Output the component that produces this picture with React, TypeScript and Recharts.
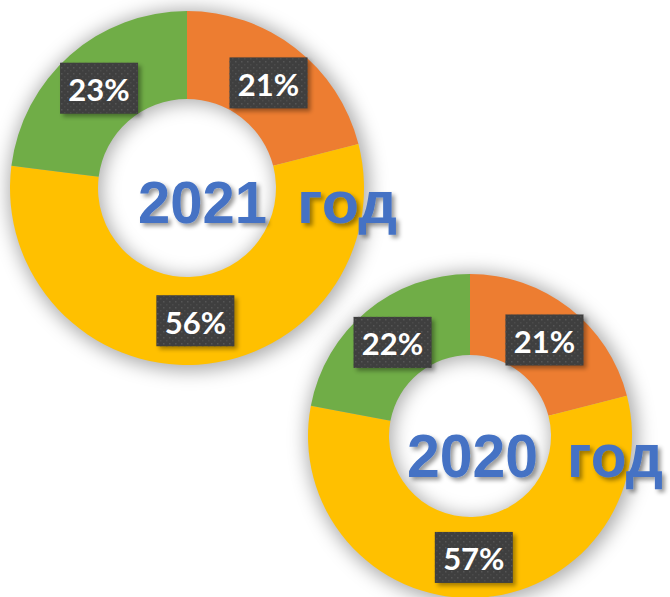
import React from "react";
import { PieChart, Pie, Cell } from "recharts";

const categories = ["Категория 1", "Категория 2", "Категория 3"];
const values2021 = [21, 56, 23];
const values2020 = [21, 57, 22];
const years = ["2021", "2020"];
const yearWord = "год";
const colors = ["#ED7D31", "#FFC000", "#70AD47"];

const data2021 = categories.map((name, i) => ({ name, value: values2021[i] }));
const data2020 = categories.map((name, i) => ({ name, value: values2020[i] }));
const ringData = [{ name: "ring", value: 100 }];

const RAD = Math.PI / 180;

function renderLabel(props: any) {
  const { cx, cy, midAngle, innerRadius, outerRadius, value } = props;
  const r = (innerRadius + outerRadius) / 2;
  const x = cx + r * Math.cos(-midAngle * RAD);
  const y = cy + r * Math.sin(-midAngle * RAD);
  const w = 78;
  const h = 51;
  return (
    <g>
      <rect
        x={x - w / 2 + 3}
        y={y - h / 2 + 3}
        width={w}
        height={h}
        fill="#000"
        opacity={0.35}
        filter="url(#boxBlur)"
      />
      <rect x={x - w / 2} y={y - h / 2} width={w} height={h} fill="#3f3f3f" />
      <rect x={x - w / 2} y={y - h / 2} width={w} height={h} fill="url(#dots)" />
      <text
        x={x}
        y={y + 1}
        textAnchor="middle"
        dominantBaseline="central"
        fill="#ffffff"
        fontFamily="Lato, 'Open Sans', sans-serif"
        fontWeight={700}
        fontSize={31}
      >
        {value}%
      </text>
    </g>
  );
}

// year title: number and word are spaced apart like in the original slide
function Title(props: {
  x: number;
  wordX: number;
  y: number;
  size: number;
  yearLen: number;
  wordLen: number;
  year: string;
}) {
  const { x, wordX, y, size, yearLen, wordLen, year } = props;
  return (
    <text
      y={y}
      fill="#4472C4"
      fontFamily="'Liberation Sans', Arial, sans-serif"
      fontWeight={700}
      fontSize={size}
      filter="url(#textShadow)"
    >
      <tspan x={x} textLength={yearLen} lengthAdjust="spacingAndGlyphs">
        {year}
      </tspan>
      <tspan x={wordX} textLength={wordLen} lengthAdjust="spacingAndGlyphs">
        {yearWord}
      </tspan>
    </text>
  );
}

export default function App() {
  return (
    <div style={{ position: "absolute", left: 0, top: 0, width: 670, height: 597, background: "#fff" }}>
      <PieChart width={670} height={597} margin={{ top: 0, right: 0, bottom: 0, left: 0 }}>
        <defs>
          <filter id="ringBlur" x="-30%" y="-30%" width="160%" height="160%">
            <feGaussianBlur stdDeviation="9" />
          </filter>
          <filter id="boxBlur" x="-20%" y="-20%" width="140%" height="140%">
            <feGaussianBlur stdDeviation="2" />
          </filter>
          <pattern id="dots" width="6" height="6" patternUnits="userSpaceOnUse">
            <rect x="1" y="1" width="1.5" height="1.5" fill="#555555" />
            <rect x="4" y="4" width="1.5" height="1.5" fill="#4b4b4b" />
          </pattern>
        </defs>

        {/* soft shadow rings */}
        <Pie
          data={ringData}
          dataKey="value"
          cx={189}
          cy={190}
          innerRadius={87}
          outerRadius={181}
          stroke="none"
          isAnimationActive={false}
        >
          <Cell fill="#000" fillOpacity={0.32} filter="url(#ringBlur)" />
        </Pie>
        <Pie
          data={ringData}
          dataKey="value"
          cx={472}
          cy={438}
          innerRadius={79}
          outerRadius={166}
          stroke="none"
          isAnimationActive={false}
        >
          <Cell fill="#000" fillOpacity={0.32} filter="url(#ringBlur)" />
        </Pie>

        <Pie
          data={data2021}
          dataKey="value"
          nameKey="name"
          cx={187}
          cy={188}
          innerRadius={89}
          outerRadius={177}
          startAngle={90}
          endAngle={-270}
          stroke="none"
          labelLine={false}
          label={renderLabel}
          isAnimationActive={false}
        >
          {data2021.map((d, i) => (
            <Cell key={`a-${i}`} fill={colors[i]} />
          ))}
        </Pie>
        <Pie
          data={data2020}
          dataKey="value"
          nameKey="name"
          cx={470}
          cy={436}
          innerRadius={81}
          outerRadius={162}
          startAngle={90}
          endAngle={-270}
          stroke="none"
          labelLine={false}
          label={renderLabel}
          isAnimationActive={false}
        >
          {data2020.map((d, i) => (
            <Cell key={`b-${i}`} fill={colors[i]} />
          ))}
        </Pie>
      </PieChart>

      <svg
        width={670}
        height={597}
        style={{ position: "absolute", left: 0, top: 0, pointerEvents: "none" }}
      >
        <defs>
          <filter id="textShadow" x="-10%" y="-20%" width="120%" height="150%">
            <feDropShadow dx="3" dy="3" stdDeviation="2" floodColor="#000" floodOpacity="0.4" />
          </filter>
        </defs>
        <Title x={138} wordX={297} y={223} size={59} yearLen={129} wordLen={100} year={years[0]} />
        <Title x={407} wordX={567} y={477} size={61} yearLen={131} wordLen={96} year={years[1]} />
      </svg>
    </div>
  );
}
